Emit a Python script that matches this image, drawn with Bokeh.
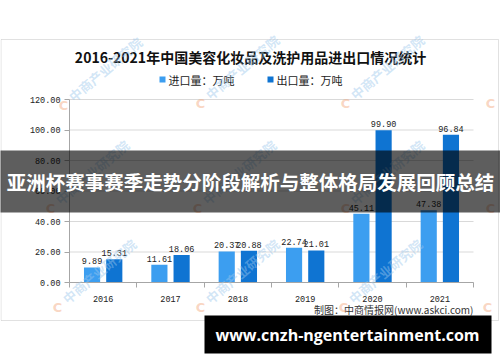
import math
from bokeh.plotting import figure
from bokeh.models import (ColumnDataSource, Range1d, LinearAxis, FixedTicker,
                          NumeralTickFormatter, Label, BoxAnnotation)
from bokeh.core.properties import value
from bokeh.embed import file_html
from bokeh.resources import INLINE

# ---------------- data ----------------
years = ["2016", "2017", "2018", "2019", "2020", "2021"]
imports = [9.89, 11.61, 20.37, 22.74, 45.11, 47.38]
exports = [15.31, 18.06, 20.88, 21.01, 99.90, 96.84]
y_ticks = [0, 20, 40, 60, 80, 100, 120]
title_text = "2016-2021年中国美容化妆品及洗护用品进出口情况统计"
series_names = ["进口量：万吨", "出口量：万吨"]
source_text = "制图：中商情报网(www.askci.com)"
watermark_text = "中商产业研究院"
banner_text = "亚洲杯赛事赛季走势分阶段解析与整体格局发展回顾总结"
site_text = "www.cnzh-ngentertainment.com"

# ---------------- layout / style ----------------
W, H = 500, 362
PX_L, PX_R = 69, 473        # plot area left/right (pixels)
PY_B, PY_T = 282, 99        # plot area bottom/top (pixels)
C_IMP = "#3c9ef0"
C_EXP = "#0f74d2"
AXIS_C = "#a6a6a6"
MONO = "Liberation Mono"
CJK = "Noto Sans CJK SC"

n = len(years)
y_lo, y_hi = y_ticks[0], y_ticks[-1]
px_per_slot = (PX_R - PX_L) / n
px_per_unit = (PY_B - PY_T) / (y_hi - y_lo)
x_start = -PX_L / px_per_slot
x_end = n + (W - PX_R) / px_per_slot
y_start = y_lo - (H - PY_B) / px_per_unit
y_end = y_hi + PY_T / px_per_unit


def sx(px):
    return px


def sy(py):
    return H - py


BW = 0.24
OFF = 0.165
slot = list(range(n))
src = ColumnDataSource(dict(
    x_imp=[i + 0.5 - OFF for i in slot],
    x_exp=[i + 0.5 + OFF for i in slot],
    imp=imports, exp=exports,
    imp_txt=[f"{v:.2f}" for v in imports],
    exp_txt=[f"{v:.2f}" for v in exports],
))

p = figure(x_range=Range1d(x_start, x_end), y_range=Range1d(y_start, y_end),
           width=W, height=H, x_axis_type=None, y_axis_type=None,
           toolbar_location=None, output_backend="svg",
           min_border=0, min_border_left=0, min_border_right=0,
           min_border_top=0, min_border_bottom=0)
p.outline_line_color = None
p.background_fill_color = "white"
p.border_fill_color = "white"
p.xgrid.visible = False
p.ygrid.visible = False

# chart border box
p.add_layout(BoxAnnotation(left=sx(0.5), right=sx(498), top=sy(39), bottom=sy(320),
                           left_units="screen", right_units="screen",
                           top_units="screen", bottom_units="screen",
                           fill_alpha=0, line_color="#9a9a9a", line_width=1))

# horizontal gridlines across the plot area
p.segment(x0=[0] * len(y_ticks), x1=[n] * len(y_ticks), y0=y_ticks, y1=y_ticks,
          line_color="#d9d9d9", line_width=1)

# y axis
yaxis = LinearAxis(ticker=FixedTicker(ticks=y_ticks), formatter=NumeralTickFormatter(format="0.00"),
                   fixed_location=0, bounds=(y_lo, y_hi))
yaxis.axis_line_color = AXIS_C
yaxis.major_tick_line_color = AXIS_C
yaxis.major_tick_out = 5
yaxis.major_tick_in = 0
yaxis.minor_tick_line_color = None
yaxis.major_label_text_font = MONO
yaxis.major_label_text_font_size = "8.5px"
yaxis.major_label_text_color = "#222222"
yaxis.major_label_standoff = 4
p.add_layout(yaxis, "left")

# x axis: labels at category centres, ticks at category boundaries
xaxis = LinearAxis(ticker=FixedTicker(ticks=[i + 0.5 for i in slot],
                                      minor_ticks=list(range(n + 1))),
                   major_label_overrides={i + 0.5: y for i, y in zip(slot, years)},
                   fixed_location=y_lo, bounds=(0, n))
xaxis.axis_line_color = AXIS_C
xaxis.major_tick_line_color = None
xaxis.major_tick_out = 0
xaxis.major_tick_in = 0
xaxis.minor_tick_line_color = AXIS_C
xaxis.minor_tick_out = 5
xaxis.minor_tick_in = 0
xaxis.major_label_text_font = MONO
xaxis.major_label_text_font_size = "8.5px"
xaxis.major_label_text_color = "#222222"
xaxis.major_label_standoff = 8
p.add_layout(xaxis, "below")

# bars + value labels
p.vbar(x="x_imp", top="imp", width=BW, source=src, fill_color=C_IMP, line_color=None)
p.vbar(x="x_exp", top="exp", width=BW, source=src, fill_color=C_EXP, line_color=None)
p.text(x="x_imp", y="imp", text="imp_txt", source=src,
       text_align="center", text_baseline="bottom", y_offset=-3,
       text_font=value(MONO), text_font_size="8.5px", text_color="#222222")
p.text(x="x_exp", y="exp", text="exp_txt", source=src,
       text_align="center", text_baseline="bottom", y_offset=-3,
       text_font=value(MONO), text_font_size="8.5px", text_color="#222222")

# title
p.add_layout(Label(x=sx(250), y=sy(56), x_units="screen", y_units="screen",
                   text=title_text, text_align="center", text_baseline="middle",
                   text_font=CJK, text_font_style="bold", text_font_size="14px",
                   text_color="#111111"))

# legend
for (lx, name, col) in [(159, series_names[0], C_IMP), (267, series_names[1], C_EXP)]:
    p.add_layout(BoxAnnotation(left=sx(lx), right=sx(lx + 6), top=sy(76), bottom=sy(82),
                               left_units="screen", right_units="screen",
                               top_units="screen", bottom_units="screen",
                               fill_color=col, fill_alpha=1, line_color=None))
    p.add_layout(Label(x=sx(lx + 9), y=sy(79.5), x_units="screen", y_units="screen",
                       text=name, text_align="left", text_baseline="middle",
                       text_font=CJK, text_font_size="11px", text_color="#222222"))

# source
p.add_layout(Label(x=sx(473), y=sy(309), x_units="screen", y_units="screen",
                   text=source_text, text_align="right", text_baseline="middle",
                   text_font=CJK, text_font_size="10px", text_color="#333333"))

# watermarks
full_marks = [(63, 105), (200, 103), (345, 103),
              (50, 208), (197, 208), (345, 208),
              (57, 307), (200, 307), (343, 307)]
logo_only = [(490, 103), (490, 208), (487, 307)]
for (wx, wy) in full_marks + logo_only:
    p.add_layout(Label(x=sx(wx), y=sy(wy), x_units="screen", y_units="screen",
                       text="C", text_align="center", text_baseline="middle",
                       text_font="DejaVu Sans", text_font_style="bold",
                       text_font_size="13px", text_color="#f2a57a", text_alpha=0.45))
for (wx, wy) in full_marks:
    p.add_layout(Label(x=sx(wx + 7), y=sy(wy - 7), x_units="screen", y_units="screen",
                       text=watermark_text, text_align="left", text_baseline="middle",
                       angle=math.radians(40),
                       text_font=CJK, text_font_style="bold", text_font_size="13px",
                       text_color="#9cc7ec", text_alpha=0.45))

# dark band with headline
p.add_layout(BoxAnnotation(left=sx(-5), right=sx(505), top=sy(150), bottom=sy(212),
                           left_units="screen", right_units="screen",
                           top_units="screen", bottom_units="screen",
                           fill_color="black", fill_alpha=0.63, line_color=None))
p.add_layout(Label(x=sx(250), y=sy(181), x_units="screen", y_units="screen",
                   text=banner_text, text_align="center", text_baseline="middle",
                   text_font=CJK, text_font_style="bold", text_font_size="19.5px",
                   text_color="white"))

# bottom black banner
p.add_layout(BoxAnnotation(left=sx(204), right=sx(491), top=sy(315), bottom=sy(353),
                           left_units="screen", right_units="screen",
                           top_units="screen", bottom_units="screen",
                           fill_color="black", fill_alpha=1, line_color=None))
p.add_layout(Label(x=sx(347), y=sy(334), x_units="screen", y_units="screen",
                   text=site_text, text_align="center", text_baseline="middle",
                   text_font="Open Sans", text_font_style="bold", text_font_size="16px",
                   text_color="white"))

open("out.html", "w").write(file_html(p, INLINE))
